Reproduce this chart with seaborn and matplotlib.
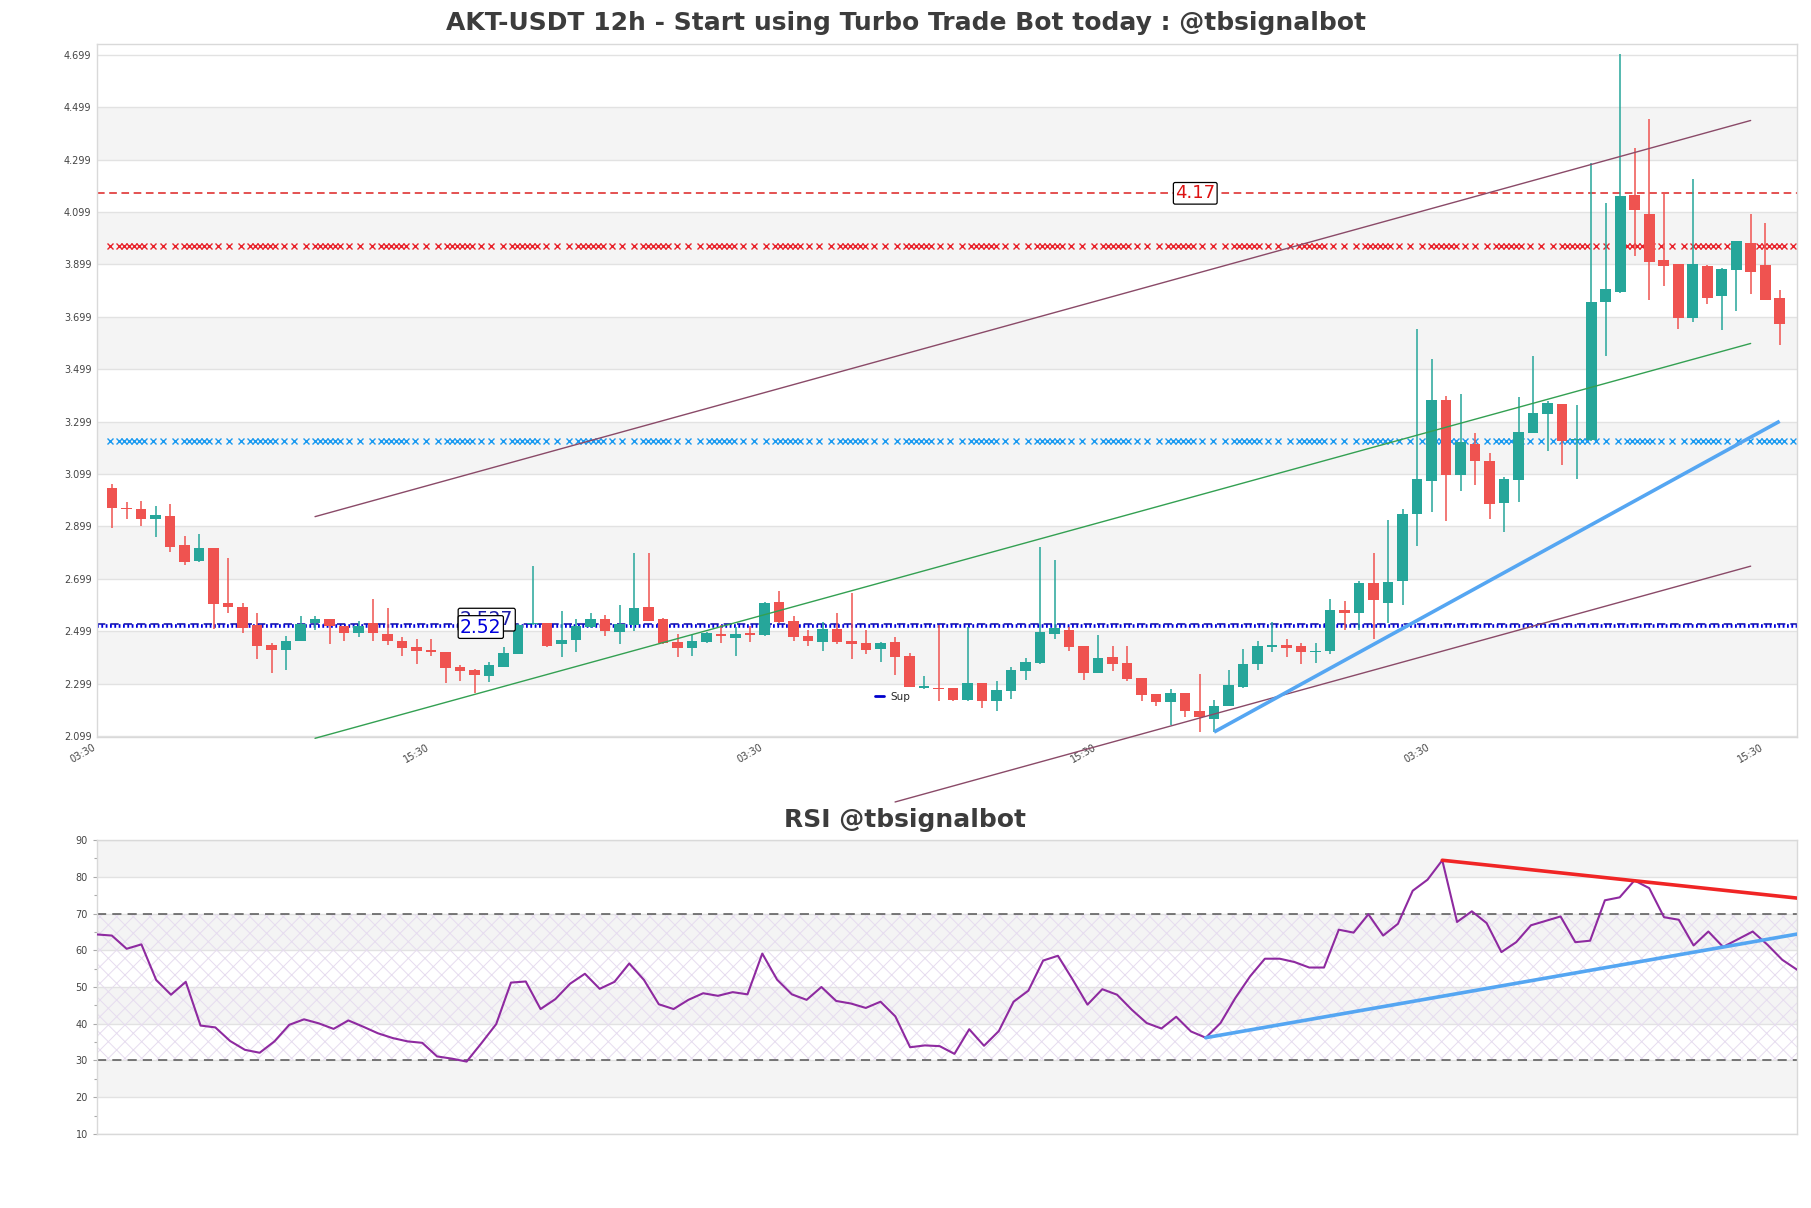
import numpy as np
import pandas as pd
import matplotlib
matplotlib.use("Agg")
import matplotlib.pyplot as plt
import seaborn as sns
from matplotlib.lines import Line2D

# ---------------- data ----------------
title_main = "AKT-USDT 12h - Start using Turbo Trade Bot today : @tbsignalbot"
title_rsi = "RSI @tbsignalbot"

opens = [3.045, 2.967, 2.967, 2.927, 2.937, 2.826, 2.765, 2.815, 2.606, 2.593,
         2.521, 2.448, 2.427, 2.463, 2.530, 2.544, 2.519, 2.493, 2.530, 2.490,
         2.460, 2.439, 2.427, 2.421, 2.362, 2.349, 2.326, 2.364, 2.413, 2.525,
         2.532, 2.449, 2.465, 2.514, 2.546, 2.494, 2.523, 2.593, 2.544, 2.456,
         2.434, 2.457, 2.489, 2.474, 2.493, 2.484, 2.611, 2.536, 2.482, 2.457,
         2.509, 2.460, 2.453, 2.430, 2.456, 2.406, 2.283, 2.282, 2.281, 2.238,
         2.300, 2.232, 2.270, 2.346, 2.377, 2.489, 2.502, 2.441, 2.339, 2.399,
         2.377, 2.320, 2.261, 2.228, 2.264, 2.196, 2.164, 2.215, 2.287, 2.372,
         2.438, 2.447, 2.441, 2.419, 2.423, 2.578, 2.569, 2.683, 2.608, 2.690,
         2.948, 3.072, 3.383, 3.095, 3.212, 3.147, 2.987, 3.076, 3.254, 3.326,
         3.367, 3.227, 3.227, 3.755, 3.793, 4.165, 4.092, 3.917, 3.899, 3.695,
         3.891, 3.777, 3.876, 3.980, 3.895, 3.772]
highs = [3.061, 2.990, 2.994, 2.975, 2.985, 2.864, 2.868, 2.815, 2.778, 2.608,
         2.570, 2.455, 2.479, 2.555, 2.556, 2.545, 2.520, 2.537, 2.620, 2.586,
         2.476, 2.469, 2.469, 2.421, 2.371, 2.355, 2.381, 2.437, 2.527, 2.747,
         2.532, 2.574, 2.544, 2.568, 2.559, 2.597, 2.796, 2.796, 2.550, 2.489,
         2.485, 2.495, 2.524, 2.514, 2.518, 2.612, 2.654, 2.558, 2.504, 2.533,
         2.570, 2.645, 2.504, 2.457, 2.475, 2.415, 2.327, 2.524, 2.281, 2.514,
         2.300, 2.307, 2.362, 2.396, 2.820, 2.769, 2.514, 2.441, 2.485, 2.442,
         2.441, 2.320, 2.261, 2.279, 2.264, 2.336, 2.238, 2.349, 2.432, 2.461,
         2.533, 2.470, 2.453, 2.453, 2.622, 2.614, 2.690, 2.798, 2.924, 2.965,
         3.654, 3.536, 3.397, 3.403, 3.254, 3.180, 3.086, 3.394, 3.550, 3.377,
         3.367, 3.363, 4.286, 4.133, 4.703, 4.343, 4.453, 4.175, 3.899, 4.226,
         3.897, 3.885, 3.987, 4.092, 4.058, 3.802]
lows = [2.892, 2.927, 2.902, 2.860, 2.801, 2.752, 2.762, 2.508, 2.568, 2.493,
        2.391, 2.339, 2.351, 2.461, 2.502, 2.449, 2.461, 2.476, 2.463, 2.447,
        2.406, 2.374, 2.406, 2.301, 2.308, 2.264, 2.304, 2.362, 2.410, 2.521,
        2.437, 2.400, 2.419, 2.512, 2.480, 2.449, 2.499, 2.537, 2.451, 2.402,
        2.405, 2.453, 2.453, 2.406, 2.457, 2.481, 2.530, 2.461, 2.442, 2.423,
        2.451, 2.392, 2.410, 2.381, 2.330, 2.285, 2.280, 2.232, 2.232, 2.234,
        2.206, 2.194, 2.241, 2.313, 2.374, 2.469, 2.423, 2.313, 2.339, 2.346,
        2.308, 2.232, 2.213, 2.139, 2.171, 2.114, 2.114, 2.215, 2.283, 2.349,
        2.419, 2.402, 2.374, 2.377, 2.413, 2.504, 2.504, 2.469, 2.532, 2.599,
        2.825, 2.955, 2.919, 3.034, 3.057, 2.927, 2.878, 2.990, 3.254, 3.186,
        3.132, 3.081, 3.224, 3.548, 3.789, 3.929, 3.764, 3.815, 3.653, 3.679,
        3.746, 3.649, 3.719, 3.787, 3.761, 3.590]
closes = [2.969, 2.964, 2.927, 2.944, 2.820, 2.762, 2.818, 2.602, 2.591, 2.511,
          2.444, 2.427, 2.463, 2.525, 2.544, 2.517, 2.493, 2.519, 2.493, 2.462,
          2.434, 2.423, 2.419, 2.358, 2.346, 2.330, 2.368, 2.414, 2.523, 2.532,
          2.441, 2.467, 2.517, 2.546, 2.499, 2.525, 2.589, 2.537, 2.453, 2.434,
          2.460, 2.491, 2.480, 2.490, 2.484, 2.608, 2.533, 2.476, 2.461, 2.508,
          2.457, 2.449, 2.428, 2.452, 2.400, 2.285, 2.288, 2.279, 2.238, 2.300,
          2.232, 2.273, 2.349, 2.381, 2.495, 2.510, 2.438, 2.339, 2.396, 2.374,
          2.317, 2.257, 2.228, 2.264, 2.196, 2.171, 2.215, 2.295, 2.372, 2.444,
          2.447, 2.435, 2.419, 2.423, 2.578, 2.569, 2.683, 2.618, 2.685, 2.948,
          3.078, 3.380, 3.095, 3.219, 3.148, 2.984, 3.078, 3.258, 3.330, 3.368,
          3.224, 3.230, 3.755, 3.803, 4.160, 4.105, 3.906, 3.891, 3.695, 3.901,
          3.772, 3.883, 3.987, 3.868, 3.761, 3.672]

rsi = [64.3, 64.0, 60.4, 61.6, 51.9, 47.9, 51.4, 39.5, 39.0, 35.3,
       32.9, 32.1, 35.2, 39.7, 41.2, 40.1, 38.6, 40.9, 39.2, 37.4,
       36.1, 35.2, 34.8, 31.1, 30.5, 29.7, 34.7, 39.9, 51.2, 51.5,
       44.0, 46.7, 50.9, 53.6, 49.5, 51.4, 56.4, 51.9, 45.3, 44.0,
       46.5, 48.3, 47.6, 48.6, 48.0, 59.1, 52.0, 48.0, 46.5, 50.0,
       46.2, 45.5, 44.3, 46.0, 42.0, 33.6, 34.1, 33.9, 31.8, 38.5,
       34.0, 38.0, 46.0, 49.0, 57.2, 58.5, 52.0, 45.2, 49.4, 47.9,
       43.8, 40.2, 38.7, 41.9, 37.9, 36.2, 40.2, 47.0, 52.9, 57.7,
       57.7, 56.8, 55.3, 55.3, 65.6, 64.8, 69.8, 64.0, 67.2, 76.2,
       79.2, 84.5, 67.7, 70.6, 67.4, 59.5, 62.2, 66.8, 68.0, 69.2,
       62.2, 62.6, 73.6, 74.4, 79.0, 76.9, 69.0, 68.3, 61.3, 65.1,
       60.9, 63.0, 65.1, 61.5, 57.4, 54.7]

price_ticks = [2.099, 2.299, 2.499, 2.699, 2.899, 3.099, 3.299, 3.499,
               3.699, 3.899, 4.099, 4.299, 4.499, 4.699]
price_tick_labels = ["2.099", "2.299", "2.499", "2.699", "2.899", "3.099", "3.299",
                     "3.499", "3.699", "3.899", "4.099", "4.299", "4.499", "4.699"]
x_tick_pos = [-1, 22, 45, 68, 91, 114]
x_tick_labels = ["03:30", "15:30", "03:30", "15:30", "03:30", "15:30"]
rsi_ticks = [10, 20, 30, 40, 50, 60, 70, 80, 90]

resistance_level = 4.17
zone_red_level = 3.968
zone_blue_level = 3.226
support_dash_level = 2.527
support_dot_level = 2.52

channel_x = [14, 113]
channel_upper = [2.936, 4.448]
channel_mid = [2.09, 3.597]
channel_low_x = [54, 113]
channel_low = [1.847, 2.747]
support_x = [76, 115]
support_y = [2.114, 3.30]
rsi_res_x = [91, 115]
rsi_res_y = [84.5, 74.2]
rsi_sup_x = [75, 115]
rsi_sup_y = [36.2, 64.4]

# ---------------- style ----------------
sns.set_theme(style="white")
plt.rcParams['font.family'] = ['DejaVu Sans']
plt.rcParams['hatch.linewidth'] = 0.7

GREEN = "#26a69a"
RED = "#ef5350"
BAND = "#f4f4f4"
GRID = "#e2e2e2"
SPINE = "#d9d9d9"
TXT = "#444444"

fig = plt.figure(figsize=(18.11, 12.08), dpi=100)
ax = fig.add_axes([0.0536, 0.3899, 0.9387, 0.5737])
ax2 = fig.add_axes([0.0536, 0.0613, 0.9387, 0.2433])

df = pd.DataFrame({"o": opens, "h": highs, "l": lows, "c": closes})
df["idx"] = np.arange(len(df))
df["up"] = df["c"] >= df["o"]
df["col"] = np.where(df["up"], GREEN, RED)
df["bottom"] = df[["o", "c"]].min(axis=1)
df["height"] = (df["c"] - df["o"]).abs().clip(lower=0.004)

# main axes background bands and grid
ax.set_xlim(-1.03, 116.2)
ax.set_ylim(2.095, 4.74)
for k in range(len(price_ticks) - 1):
    if k % 2 == 1:
        ax.axhspan(price_ticks[k], price_ticks[k + 1], color=BAND, lw=0, zorder=0)
for t in price_ticks:
    ax.axhline(t, color=GRID, lw=1, zorder=0.5)

# level lines
ax.axhline(resistance_level, color="#dd2222", lw=1.1, dashes=(5, 3), zorder=1)
ax.axhline(support_dash_level, color="#1c1ca8", lw=1.2, dashes=(5, 3), zorder=1)
ax.axhline(support_dot_level, color="#0000dd", lw=2.6, dashes=(0.5, 0.7), zorder=1)

def marker_line(y, color):
    period = 65.6 / 14.5
    offs = np.array([0, 12, 21, 26, 31, 36, 41, 46, 55]) / 14.5
    xs = []
    start = -1.0
    while start < 116.5:
        xs.extend(list(start + offs))
        start += period
    xs = np.array(xs)
    xs = xs[(xs > -1.0) & (xs < 116.1)]
    ax.plot(xs, np.full_like(xs, y), linestyle="none", marker="x",
            markersize=4.3, mew=1.0, color=color, zorder=1)

marker_line(zone_red_level, "#e8222a")
marker_line(zone_blue_level, "#1a9af0")

# candles
ax.vlines(df["idx"], df["l"], df["h"], colors=df["col"], lw=1.1, zorder=3)
ax.bar(df["idx"], df["height"], bottom=df["bottom"], width=0.74,
       color=df["col"], lw=0, zorder=4)

# trend / channel lines
ax.plot(channel_x, channel_upper, color="#8a4a68", lw=1.0, zorder=5, clip_on=False)
ax.plot(channel_x, channel_mid, color="#33a052", lw=1.0, zorder=5, clip_on=False)
ax.plot(channel_low_x, channel_low, color="#8a4a68", lw=1.0, zorder=5, clip_on=False)
ax.plot(support_x, support_y, color="#55a6f2", lw=2.6, zorder=5, solid_capstyle="butt")

# labels
ax.text(74.7, resistance_level, "4.17", color="#dd1111", fontsize=13,
        ha="center", va="center", zorder=7,
        bbox=dict(boxstyle="round,pad=0.1", fc="white", ec="black", lw=0.9))
ax.annotate("2.527", xy=(24.0, support_dash_level), xytext=(0, 3),
            textcoords="offset points", color="#1c1ca8", fontsize=13.5,
            ha="left", va="center", zorder=7,
            bbox=dict(boxstyle="round,pad=0.1", fc="white", ec="black", lw=0.9))
ax.annotate("2.52", xy=(24.0, support_dot_level), xytext=(0, -1),
            textcoords="offset points", color="#0000dd", fontsize=13.5,
            ha="left", va="center", zorder=8,
            bbox=dict(boxstyle="round,pad=0.1", fc="white", ec="black", lw=0.9))

leg = ax.legend(handles=[Line2D([], [], color="#0000cc", lw=2)], labels=["Sup"],
                loc="center left", bbox_to_anchor=(0.452, 0.058), frameon=False,
                fontsize=7.5, handlelength=0.9, handletextpad=0.6)

ax.set_yticks(price_ticks)
ax.set_yticklabels(price_tick_labels)
ax.set_xticks(x_tick_pos)
ax.set_xticklabels(x_tick_labels, rotation=30, ha="right")
ax.tick_params(axis="both", labelsize=7, colors=TXT, length=0, pad=4)
for s in ax.spines.values():
    s.set_color(SPINE)
    s.set_linewidth(1)

# ---------------- RSI ----------------
ax2.set_xlim(0, len(rsi) - 1)
ax2.set_ylim(10, 90)
for lo, hi in [(20, 30), (40, 50), (60, 70), (80, 90)]:
    ax2.axhspan(lo, hi, color=BAND, lw=0, zorder=0)
ax2.axhspan(30, 70, facecolor="none", hatch="xx", edgecolor="#e6dcef", lw=0, zorder=0.6)
for t in rsi_ticks:
    ax2.axhline(t, color=GRID, lw=1, zorder=0.5)
ax2.axhline(70, color="#555555", lw=1.1, dashes=(6, 4), zorder=1)
ax2.axhline(30, color="#555555", lw=1.1, dashes=(6, 4), zorder=1)

rsi_df = pd.DataFrame({"k": np.arange(len(rsi)), "rsi": rsi})
sns.lineplot(data=rsi_df, x="k", y="rsi", ax=ax2, color="#8e2aa0", lw=1.5, zorder=3)
ax2.plot(rsi_res_x, rsi_res_y, color="#f02525", lw=2.6, zorder=4)
ax2.plot(rsi_sup_x, rsi_sup_y, color="#55a6f2", lw=2.6, zorder=4)

ax2.set_xlabel("")
ax2.set_ylabel("")
ax2.set_xticks([])
ax2.set_yticks(rsi_ticks)
ax2.set_yticks(np.arange(15, 90, 10), minor=True)
ax2.tick_params(axis="y", which="major", labelsize=7, colors=TXT, length=3, width=0.8,
                left=True, color="#aaaaaa")
ax2.tick_params(axis="y", which="minor", length=2, width=0.8, left=True, color="#aaaaaa")
ax2.tick_params(axis="y", labelcolor=TXT)
for s in ax2.spines.values():
    s.set_color(SPINE)
    s.set_linewidth(1)

fig.text(0.5, 0.981, title_main, ha="center", va="center", fontsize=18,
         fontweight="bold", color="#3c3c3c")
fig.text(0.5, 0.3212, title_rsi, ha="center", va="center", fontsize=18,
         fontweight="bold", color="#3c3c3c")

fig.savefig("out.png", dpi=100)
